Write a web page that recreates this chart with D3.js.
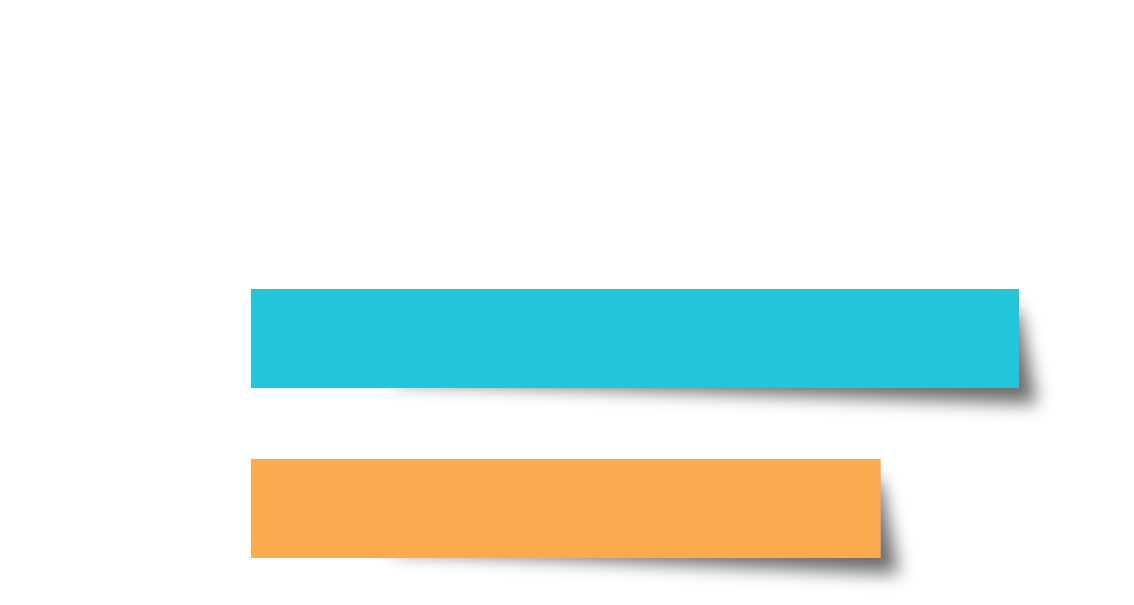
<!DOCTYPE html>
<html>
<head>
<meta charset="utf-8">
<script src="https://cdn.jsdelivr.net/npm/d3@7"></script>
<style>
  html, body { margin: 0; padding: 0; background: #ffffff; }
  svg { display: block; }
</style>
</head>
<body>
<svg id="chart" width="1134" height="605"></svg>
<script>
// Data
const categories = ["A", "B"];
const values = [100, 82];
const colors = ["#25c5d9", "#fbab4e"];

const width = 1134, height = 605;
const svg = d3.select("#chart");

const x = d3.scaleLinear().domain([0, 100]).range([251, 1019]);
const y = d3.scaleBand().domain(categories).range([253.5, 593.5])
  .paddingInner(0.4176).paddingOuter(0.2088);

const defs = svg.append("defs");
const f = defs.append("filter").attr("id", "blur")
  .attr("x", "-20%").attr("y", "-50%").attr("width", "140%").attr("height", "200%");
f.append("feGaussianBlur").attr("stdDeviation", 9);

const rows = categories.map((c, i) => ({ c, v: values[i], color: colors[i] }));

// curled shadows
svg.append("g").selectAll("path").data(rows).join("path")
  .attr("d", d => {
    const x0 = x(0), x1 = x(d.v), y0 = y(d.c), y1 = y(d.c) + y.bandwidth();
    return `M${x0 + 40},${y0 + 25} L${x1},${y0 + 22} L${x1 + 18},${y1 + 16} L${x0 + 150},${y1 - 6} Z`;
  })
  .attr("fill", "rgba(0,0,0,0.58)")
  .attr("filter", "url(#blur)");

// bars
svg.append("g").selectAll("rect").data(rows).join("rect")
  .attr("x", x(0))
  .attr("y", d => y(d.c))
  .attr("width", d => x(d.v) - x(0))
  .attr("height", y.bandwidth())
  .attr("fill", d => d.color);
</script>
</body>
</html>
